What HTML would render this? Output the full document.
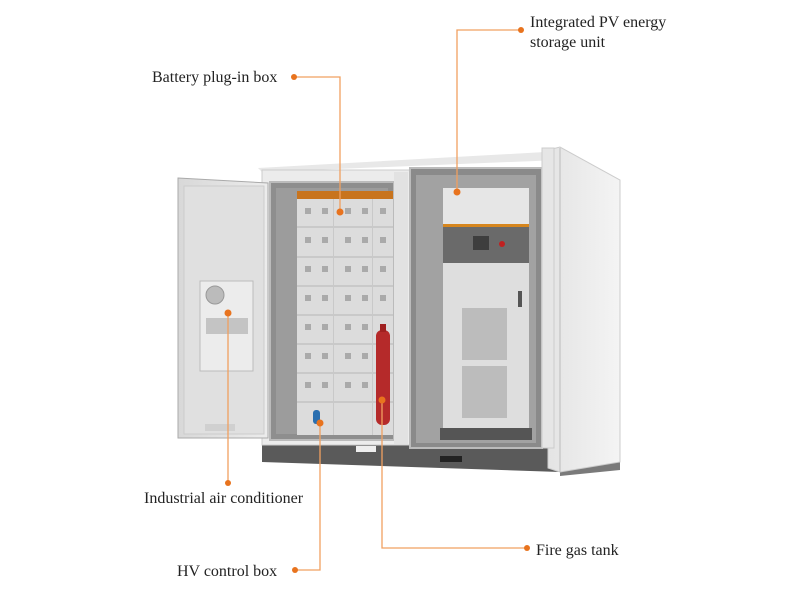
<!DOCTYPE html>
<html><head><meta charset="utf-8"><style>
html,body{margin:0;padding:0;background:#fff;width:800px;height:600px;overflow:hidden}
svg{display:block}
text{font-family:"Liberation Serif",serif;font-size:16px;fill:#222}
</style></head><body>
<svg width="800" height="600" viewBox="0 0 800 600" xmlns="http://www.w3.org/2000/svg">
<defs>
<linearGradient id="side" x1="0" x2="1"><stop offset="0" stop-color="#e4e4e4"/><stop offset="1" stop-color="#f4f4f4"/></linearGradient>
<linearGradient id="door" x1="0" x2="1"><stop offset="0" stop-color="#d8d8d8"/><stop offset="1" stop-color="#ececec"/></linearGradient>
</defs>
<polygon points="262,440 560,448 560,472 262,462" fill="#5a5a5a"/>
<polygon points="560,448 620,452 620,470 560,476" fill="#7a7a7a"/>
<rect x="356" y="446" width="20" height="6" fill="#eee"/>
<rect x="440" y="456" width="22" height="6" fill="#222"/>
<rect x="563" y="458" width="10" height="9" fill="#eee"/>
<polygon points="258,168 545,152 560,147 560,160 262,172" fill="#e8e8e8"/>
<polygon points="548,150 560,147 620,180 620,462 560,472 548,468" fill="url(#side)" stroke="#ccc"/>
<line x1="560" y1="148" x2="560" y2="472" stroke="#bbb"/>
<rect x="262" y="170" width="290" height="275" fill="#ececec" stroke="#ccc"/>
<rect x="270" y="182" width="124" height="258" fill="#8e8e8e" stroke="#bbb" stroke-width="2"/>
<rect x="276" y="188" width="112" height="246" fill="#9c9c9c"/>
<rect x="297" y="191" width="96" height="244" fill="#dcdcdc"/>
<rect x="297" y="191" width="96" height="8" fill="#c8741e"/>
<g fill="#c9c9c9">
<rect x="297" y="226" width="96" height="2"/><rect x="297" y="256" width="96" height="2"/><rect x="297" y="285" width="96" height="2"/><rect x="297" y="314" width="96" height="2"/><rect x="297" y="343" width="96" height="2"/><rect x="297" y="372" width="96" height="2"/><rect x="297" y="401" width="96" height="2"/>
<rect x="333" y="199" width="1" height="236"/><rect x="372" y="199" width="1" height="236"/>
</g>
<g fill="#aaa">
<rect x="305" y="208" width="6" height="6"/><rect x="322" y="208" width="6" height="6"/><rect x="345" y="208" width="6" height="6"/><rect x="362" y="208" width="6" height="6"/><rect x="380" y="208" width="6" height="6"/>
<rect x="305" y="237" width="6" height="6"/><rect x="322" y="237" width="6" height="6"/><rect x="345" y="237" width="6" height="6"/><rect x="362" y="237" width="6" height="6"/><rect x="380" y="237" width="6" height="6"/>
<rect x="305" y="266" width="6" height="6"/><rect x="322" y="266" width="6" height="6"/><rect x="345" y="266" width="6" height="6"/><rect x="362" y="266" width="6" height="6"/><rect x="380" y="266" width="6" height="6"/>
<rect x="305" y="295" width="6" height="6"/><rect x="322" y="295" width="6" height="6"/><rect x="345" y="295" width="6" height="6"/><rect x="362" y="295" width="6" height="6"/><rect x="380" y="295" width="6" height="6"/>
<rect x="305" y="324" width="6" height="6"/><rect x="322" y="324" width="6" height="6"/><rect x="345" y="324" width="6" height="6"/><rect x="362" y="324" width="6" height="6"/>
<rect x="305" y="353" width="6" height="6"/><rect x="322" y="353" width="6" height="6"/><rect x="345" y="353" width="6" height="6"/><rect x="362" y="353" width="6" height="6"/>
<rect x="305" y="382" width="6" height="6"/><rect x="322" y="382" width="6" height="6"/><rect x="345" y="382" width="6" height="6"/><rect x="362" y="382" width="6" height="6"/>
</g>
<rect x="313" y="410" width="7" height="14" rx="3" fill="#2a6fb0"/>
<rect x="376" y="330" width="14" height="95" rx="6" fill="#b52a2a"/>
<rect x="380" y="324" width="6" height="8" fill="#a02020"/>
<rect x="394" y="172" width="14" height="272" fill="#e2e2e2"/>
<rect x="410" y="168" width="132" height="280" fill="#8a8a8a" stroke="#bbb" stroke-width="2"/>
<rect x="416" y="175" width="120" height="268" fill="#a2a2a2"/>
<rect x="443" y="188" width="86" height="240" fill="#dedede"/>
<rect x="443" y="188" width="86" height="36" fill="#e6e6e6"/>
<rect x="443" y="224" width="86" height="3" fill="#d6861e"/>
<rect x="443" y="227" width="86" height="36" fill="#6a6a6a"/>
<rect x="473" y="236" width="16" height="14" fill="#3e3e3e"/>
<circle cx="502" cy="244" r="3" fill="#c02020"/>
<rect x="462" y="308" width="45" height="52" fill="#bcbcbc"/>
<rect x="462" y="366" width="45" height="52" fill="#bcbcbc"/>
<rect x="518" y="291" width="4" height="16" fill="#555"/>
<rect x="440" y="428" width="92" height="12" fill="#555"/>
<rect x="542" y="148" width="12" height="300" fill="#e6e6e6" stroke="#ccc"/>
<polygon points="178,178 268,183 268,438 178,438" fill="url(#door)" stroke="#aaa"/>
<rect x="184" y="186" width="80" height="248" fill="#e0e0e0" stroke="#ccc"/>
<rect x="200" y="281" width="53" height="90" fill="#ececec" stroke="#bbb"/>
<circle cx="215" cy="295" r="9" fill="#bbb" stroke="#999"/>
<rect x="206" y="318" width="42" height="16" fill="#c4c4c4"/>
<rect x="205" y="424" width="30" height="7" fill="#d0d0d0"/>
<g stroke="#f0a060" stroke-width="1.3" fill="none">
<polyline points="294,77 340,77 340,212"/>
<polyline points="521,30 457,30 457,192"/>
<line x1="228" y1="313" x2="228" y2="483"/>
<polyline points="295,570 320,570 320,423"/>
<polyline points="527,548 382,548 382,400"/>
</g>
<g fill="#e8731e">
<circle cx="294" cy="77" r="3"/><circle cx="340" cy="212" r="3.5"/>
<circle cx="521" cy="30" r="3"/><circle cx="457" cy="192" r="3.5"/>
<circle cx="228" cy="313" r="3.5"/><circle cx="228" cy="483" r="3"/>
<circle cx="295" cy="570" r="3"/><circle cx="320" cy="423" r="3.5"/>
<circle cx="527" cy="548" r="3"/><circle cx="382" cy="400" r="3.5"/>
</g>
<text x="152" y="82">Battery plug-in box</text>
<text x="530" y="27">Integrated PV energy</text>
<text x="530" y="47">storage unit</text>
<text x="144" y="503">Industrial air conditioner</text>
<text x="177" y="576">HV control box</text>
<text x="536" y="555">Fire gas tank</text>
</svg>
</body></html>
